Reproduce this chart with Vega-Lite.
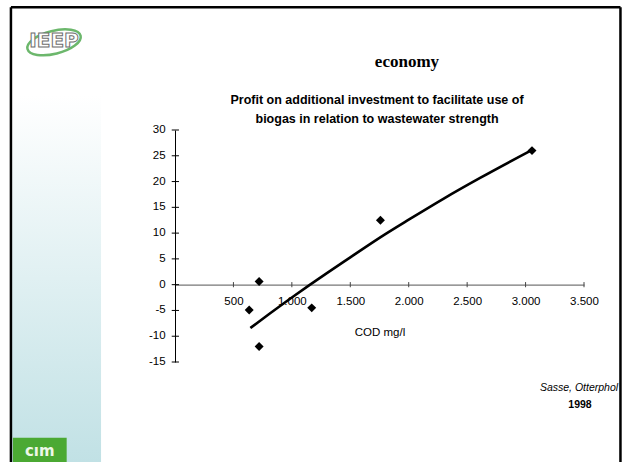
{
  "$schema": "https://vega.github.io/schema/vega-lite/v6.json",
  "autosize": {"type": "none"},
  "width": 409,
  "height": 232,
  "padding": {"left": 175, "top": 130, "right": 40, "bottom": 100},
  "background": "white",
  "config": {
    "view": {"stroke": null},
    "font": "Liberation Sans",
    "axis": {"grid": false, "labelFont": "Liberation Sans", "titleFont": "Liberation Sans", "labelColor": "#000", "titleColor": "#000", "labelFlush": false, "labelOverlap": false}
  },
  "datasets": {
    "measurements": [
      {"cod": 635, "profit": -4.9},
      {"cod": 720, "profit": 0.6},
      {"cod": 720, "profit": -12.0},
      {"cod": 1170, "profit": -4.5},
      {"cod": 1758, "profit": 12.5},
      {"cod": 3055, "profit": 26.0}
    ],
    "trend": [
      {"cod": 645, "profit": -8.4},
      {"cod": 800, "profit": -5.8},
      {"cod": 1000, "profit": -2.5},
      {"cod": 1156, "profit": 0.0},
      {"cod": 1500, "profit": 5.3},
      {"cod": 1800, "profit": 9.8},
      {"cod": 2000, "profit": 12.6},
      {"cod": 2300, "profit": 16.7},
      {"cod": 2611, "profit": 20.7},
      {"cod": 3045, "profit": 26.0}
    ],
    "yTicks": [
      {"v": -15}, {"v": -10}, {"v": -5}, {"v": 0}, {"v": 5},
      {"v": 10}, {"v": 15}, {"v": 20}, {"v": 25}, {"v": 30}
    ],
    "xTicks": [
      {"v": 500}, {"v": 1000}, {"v": 1500}, {"v": 2000},
      {"v": 2500}, {"v": 3000}, {"v": 3500}
    ],
    "panel": [{"x": -1395, "x2": -633, "y": 36.8, "y2": -34.4}],
    "frame": [
      {"x": -1404, "x2": 3812, "y": 53.8, "y2": 53.8},
      {"x": -1404, "x2": -1404, "y": 53.8, "y2": -34.4},
      {"x": 3812, "x2": 3812, "y": 53.8, "y2": -34.4}
    ],
    "badge": [{"x": -1387, "x2": -927, "y": -29.7, "y2": -34.4}],
    "badgeText": [{"x": -1157, "y": -32.2, "label": "cım"}],
    "logoRing": [{"x": -1035, "y": 47.0}],
    "logoText": [{"x": -1035, "y": 47.3, "label": "IEEP"}],
    "heading": [{"x": 1985, "y": 43.2, "label": "economy"}],
    "chartTitle": [
      {"x": 1729, "y": 35.8, "label": "Profit on additional investment to facilitate use of"},
      {"x": 1729, "y": 32.1, "label": "biogas in relation to wastewater strength"}
    ],
    "source": [{"x": 3792, "y": -20.1, "label": "Sasse, Otterphol"}],
    "year": [{"x": 3466, "y": -23.4, "label": "1998"}]
  },
  "layer": [
    {
      "data": {"name": "panel"},
      "mark": {
        "type": "rect",
        "fill": {"gradient": "linear", "x1": 0, "y1": 0, "x2": 0, "y2": 1,
          "stops": [{"offset": 0, "color": "#ffffff"}, {"offset": 1, "color": "#c1e1e5"}]}
      },
      "encoding": {
        "x": {
          "field": "x", "type": "quantitative",
          "scale": {"domain": [0, 3500], "nice": false, "zero": false},
          "axis": {
            "title": "COD mg/l",
            "titleFontSize": 11.5,
            "titleFontWeight": "normal",
            "titlePadding": 19,
            "orient": "bottom",
            "offset": -77.3,
            "values": [500, 1000, 1500, 2000, 2500, 3000, 3500],
            "labelExpr": "replace(format(datum.value, ','), ',', '.')",
            "labelFontSize": 11.5,
            "labelPadding": 11,
            "labelOverlap": false,
            "labelFlush": false,
            "ticks": false,
            "domainColor": "#777",
            "domainWidth": 1.2
          }
        },
        "x2": {"field": "x2"},
        "y": {
          "field": "y", "type": "quantitative",
          "scale": {"domain": [-15, 30], "nice": false, "zero": false},
          "axis": {
            "title": null,
            "labels": false,
            "ticks": false,
            "domainColor": "#000",
            "domainWidth": 1
          }
        },
        "y2": {"field": "y2"}
      }
    },
    {
      "data": {"name": "yTicks"},
      "mark": {"type": "text", "color": "#000", "font": "Liberation Sans", "fontSize": 11.5, "align": "right", "baseline": "middle"},
      "encoding": {
        "x": {"datum": -80, "type": "quantitative"},
        "y": {"field": "v", "type": "quantitative"},
        "text": {"field": "v", "type": "nominal"}
      }
    },
    {
      "data": {"name": "yTicks"},
      "mark": {"type": "rule", "color": "#000", "strokeWidth": 1},
      "encoding": {
        "x": {"datum": -28, "type": "quantitative"},
        "x2": {"datum": 34},
        "y": {"field": "v", "type": "quantitative"}
      }
    },
    {
      "data": {"name": "xTicks"},
      "mark": {"type": "rule", "color": "#444", "strokeWidth": 1},
      "encoding": {
        "x": {"field": "v", "type": "quantitative"},
        "y": {"datum": -0.5, "type": "quantitative"},
        "y2": {"datum": 0.5}
      }
    },
    {
      "data": {"name": "frame"},
      "mark": {"type": "rule", "color": "#000", "strokeWidth": 2.5},
      "encoding": {
        "x": {"field": "x", "type": "quantitative"},
        "x2": {"field": "x2"},
        "y": {"field": "y", "type": "quantitative"},
        "y2": {"field": "y2"}
      }
    },
    {
      "data": {"name": "badge"},
      "mark": {"type": "rect", "color": "#4ba933"},
      "encoding": {
        "x": {"field": "x", "type": "quantitative"},
        "x2": {"field": "x2"},
        "y": {"field": "y", "type": "quantitative"},
        "y2": {"field": "y2"}
      }
    },
    {
      "data": {"name": "badgeText"},
      "mark": {"type": "text", "color": "#eef7e8", "font": "DejaVu Sans", "fontSize": 15, "fontWeight": "bold", "align": "center", "baseline": "middle"},
      "encoding": {
        "x": {"field": "x", "type": "quantitative"},
        "y": {"field": "y", "type": "quantitative"},
        "text": {"field": "label"}
      }
    },
    {
      "data": {"name": "logoRing"},
      "mark": {
        "type": "point",
        "shape": "M -1 0 A 1 0.42 0 1 0 1 0 A 1 0.42 0 1 0 -1 0 Z",
        "filled": false,
        "stroke": "#2e9a2e",
        "strokeWidth": 2.5,
        "size": 3000,
        "angle": -14
      },
      "encoding": {
        "x": {"field": "x", "type": "quantitative"},
        "y": {"field": "y", "type": "quantitative"}
      }
    },
    {
      "data": {"name": "logoText"},
      "mark": {"type": "text", "fill": "#ffffff", "stroke": "#6e6e6e", "strokeWidth": 1, "font": "DejaVu Sans", "fontSize": 20, "fontWeight": "bold", "align": "center", "baseline": "middle"},
      "encoding": {
        "x": {"field": "x", "type": "quantitative"},
        "y": {"field": "y", "type": "quantitative"},
        "text": {"field": "label"}
      }
    },
    {
      "data": {"name": "heading"},
      "mark": {"type": "text", "color": "#000", "font": "Liberation Serif", "fontSize": 17, "fontWeight": "bold", "align": "center", "baseline": "middle"},
      "encoding": {
        "x": {"field": "x", "type": "quantitative"},
        "y": {"field": "y", "type": "quantitative"},
        "text": {"field": "label"}
      }
    },
    {
      "data": {"name": "chartTitle"},
      "mark": {"type": "text", "color": "#000", "font": "Liberation Sans", "fontSize": 12.5, "fontWeight": "bold", "align": "center", "baseline": "middle"},
      "encoding": {
        "x": {"field": "x", "type": "quantitative"},
        "y": {"field": "y", "type": "quantitative"},
        "text": {"field": "label"}
      }
    },
    {
      "data": {"name": "source"},
      "mark": {"type": "text", "color": "#000", "font": "Liberation Sans", "fontSize": 10.5, "fontStyle": "italic", "align": "right", "baseline": "middle"},
      "encoding": {
        "x": {"field": "x", "type": "quantitative"},
        "y": {"field": "y", "type": "quantitative"},
        "text": {"field": "label"}
      }
    },
    {
      "data": {"name": "year"},
      "mark": {"type": "text", "color": "#000", "font": "Liberation Sans", "fontSize": 10.5, "fontWeight": "bold", "align": "center", "baseline": "middle"},
      "encoding": {
        "x": {"field": "x", "type": "quantitative"},
        "y": {"field": "y", "type": "quantitative"},
        "text": {"field": "label"}
      }
    },
    {
      "data": {"name": "trend"},
      "mark": {"type": "line", "color": "#000", "strokeWidth": 2.6, "interpolate": "monotone"},
      "encoding": {
        "x": {"field": "cod", "type": "quantitative"},
        "y": {"field": "profit", "type": "quantitative"}
      }
    },
    {
      "data": {"name": "measurements"},
      "mark": {"type": "point", "shape": "diamond", "filled": true, "color": "#000", "size": 80, "opacity": 1},
      "encoding": {
        "x": {"field": "cod", "type": "quantitative"},
        "y": {"field": "profit", "type": "quantitative"}
      }
    }
  ]
}
